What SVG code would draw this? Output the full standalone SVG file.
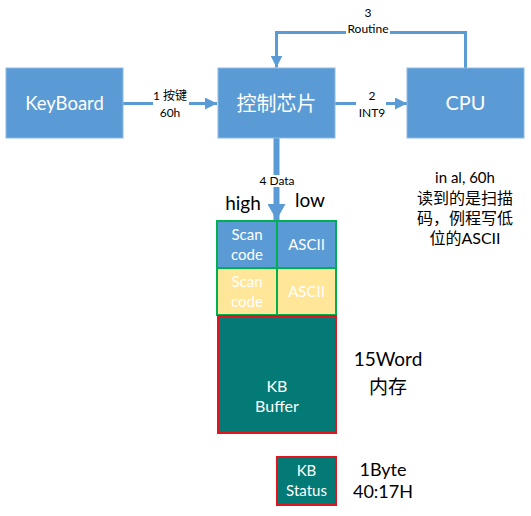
<svg xmlns="http://www.w3.org/2000/svg" width="531" height="516" viewBox="0 0 531 516">
<style>
.box{fill:#5B9BD5;stroke:#8FB9E3;stroke-width:1}
.bt{font-family:Lato,"Noto Sans","Noto Sans CJK SC",sans-serif;fill:#fff;text-anchor:middle}
.t{font-family:Lato,"Noto Sans","Noto Sans CJK SC",sans-serif;fill:#000;text-anchor:middle}
.ln{stroke:#5B9BD5;stroke-width:3;fill:none}
.lbl{fill:#fff}
.g{stroke:#00B050;stroke-width:2}
.r{stroke:#E3141E;stroke-width:2}
</style>
<defs>
<marker id="ah" markerWidth="12" markerHeight="12" refX="12" refY="6" orient="auto" markerUnits="userSpaceOnUse"><path d="M0,0 L12,6 L0,12 Z" fill="#5B9BD5"/></marker>
<marker id="ahb" markerWidth="16" markerHeight="18" refX="16" refY="9" orient="auto" markerUnits="userSpaceOnUse"><path d="M0,0 L16,9 L0,18 Z" fill="#5B9BD5"/></marker>
</defs>
<g id="connectors">
<line class="ln" x1="123" y1="103.5" x2="217" y2="103.5" marker-end="url(#ah)"/>
<line class="ln" x1="335" y1="103.5" x2="407" y2="103.5" marker-end="url(#ah)"/>
<polyline class="ln" points="465.5,68 465.5,32.5 276.5,32.5 276.5,67.5" marker-end="url(#ah)"/>
<line x1="276.5" y1="138" x2="276.5" y2="220" stroke="#5B9BD5" stroke-width="6" marker-end="url(#ahb)"/>
<rect class="lbl" x="153" y="88" width="36" height="30"/>
<text class="t" x="170" y="100" font-size="12">1 按键</text>
<text class="t" x="170" y="117" font-size="12">60h</text>
<rect class="lbl" x="356" y="88" width="30" height="30"/>
<text class="t" x="372" y="100" font-size="12">2</text>
<text class="t" x="372" y="117" font-size="12">INT9</text>
<rect class="lbl" x="346" y="24" width="44" height="14"/>
<text class="t" x="368" y="17" font-size="12">3</text>
<text class="t" x="368" y="33" font-size="12">Routine</text>
<rect class="lbl" x="258" y="175" width="38" height="12"/>
<text class="t" x="277" y="184.5" font-size="12">4 Data</text>
</g>
<g id="keyboard">
<rect class="box" x="6" y="68" width="117" height="70"/>
<text class="bt" x="64.5" y="110" font-size="18.5">KeyBoard</text>
</g>
<g id="chip">
<rect class="box" x="218" y="68" width="117" height="70"/>
<text class="bt" x="276.5" y="111" font-size="20">控制芯片</text>
</g>
<g id="cpu">
<rect class="box" x="407" y="68" width="117" height="70"/>
<text class="bt" x="465.5" y="110" font-size="20">CPU</text>
</g>
<g id="labels">
<text class="t" x="243" y="210" font-size="19">high</text>
<text class="t" x="310" y="207" font-size="19">low</text>
<text class="t" x="465" y="183" font-size="15">in al, 60h</text>
<text class="t" x="465" y="204" font-size="16">读到的是扫描</text>
<text class="t" x="465" y="224" font-size="16">码，例程写低</text>
<text class="t" x="465" y="244" font-size="16">位的ASCII</text>
<text class="t" x="388" y="366" font-size="19">15Word</text>
<text class="t" x="388" y="394" font-size="19">内存</text>
<text class="t" x="383" y="476" font-size="18">1Byte</text>
<text class="t" x="383" y="498" font-size="18">40:17H</text>
</g>
<g id="row1">
<rect class="g" x="217" y="221" width="60" height="47" fill="#5B9BD5"/>
<rect class="g" x="277" y="221" width="59" height="47" fill="#5B9BD5"/>
<text class="bt" x="247" y="240" font-size="15">Scan</text>
<text class="bt" x="247" y="260" font-size="15">code</text>
<text class="bt" x="306.5" y="250" font-size="15">ASCII</text>
</g>
<g id="row2">
<rect class="g" x="217" y="268" width="60" height="47" fill="#FFE699"/>
<rect class="g" x="277" y="268" width="59" height="47" fill="#FFE699"/>
<text class="bt" x="247" y="287" font-size="15">Scan</text>
<text class="bt" x="247" y="307" font-size="15">code</text>
<text class="bt" x="306.5" y="297" font-size="15">ASCII</text>
</g>
<g id="kb-buffer">
<rect class="r" x="218" y="316" width="118" height="117" fill="#037A75"/>
<text class="bt" x="277" y="392" font-size="16">KB</text>
<text class="bt" x="277" y="412" font-size="16">Buffer</text>
</g>
<g id="kb-status">
<rect class="r" x="277" y="457" width="59" height="48" fill="#037A75"/>
<text class="bt" x="306.5" y="476" font-size="15">KB</text>
<text class="bt" x="306.5" y="496" font-size="15">Status</text>
</g>
</svg>
